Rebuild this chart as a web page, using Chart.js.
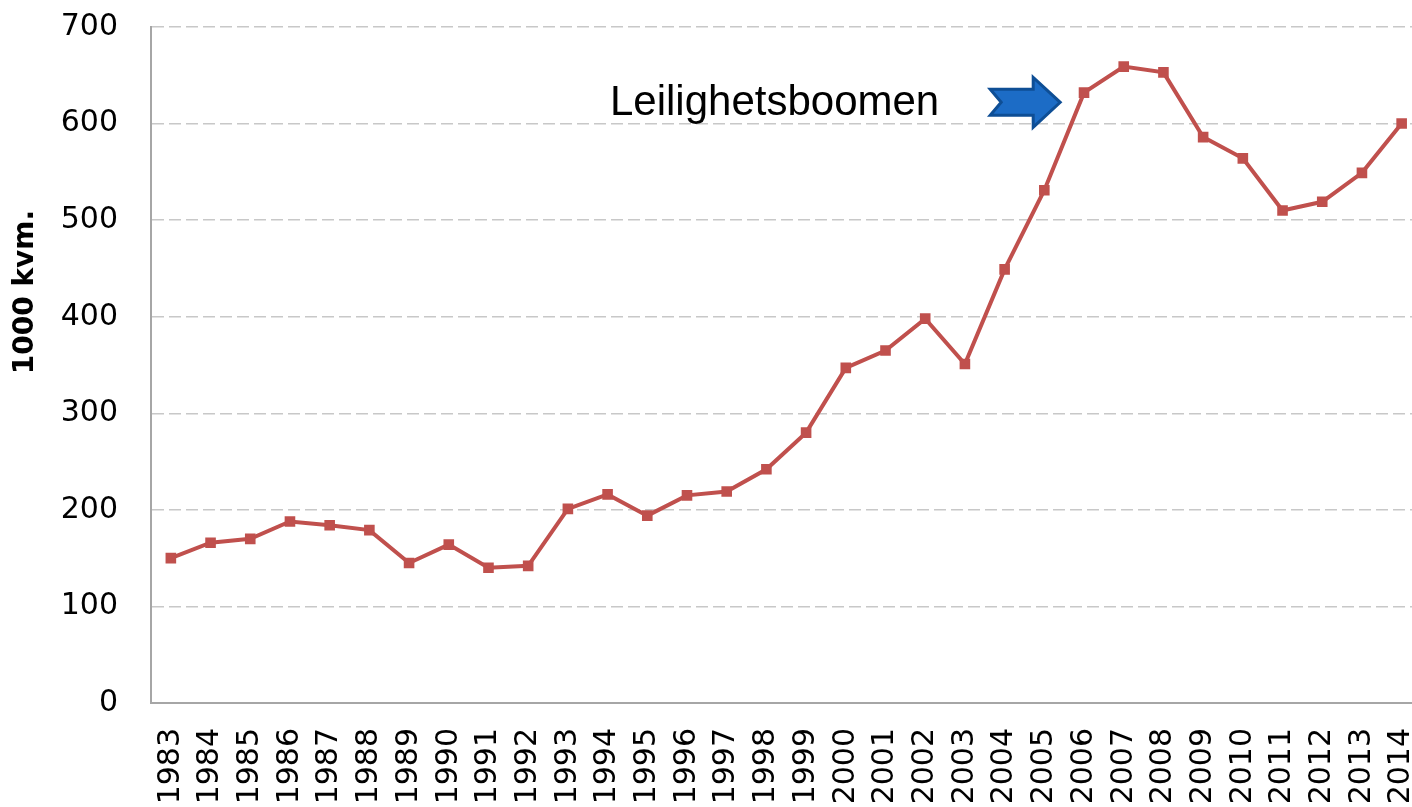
<!DOCTYPE html>
<html>
<head>
<meta charset="utf-8">
<script src="https://cdn.jsdelivr.net/npm/chart.js@4/dist/chart.umd.min.js"></script>
<style>
  html, body { margin: 0; padding: 0; background: #fff; overflow: hidden; width: 1412px; height: 807px; }
  #wrap { width: 1429px; height: 807px; }
</style>
</head>
<body>
<div id="wrap"><canvas id="c" width="1429" height="807"></canvas></div>
<script>
const years = ['1983','1984','1985','1986','1987','1988','1989','1990','1991','1992','1993','1994','1995','1996','1997','1998','1999','2000','2001','2002','2003','2004','2005','2006','2007','2008','2009','2010','2011','2012','2013','2014'];
const areaValues = [150,166,170,188,184,179,145,164,140,142,201,216,194,215,219,242,280,347,365,398,351,449,531,632,659,653,586,564,510,519,549,600];
const yTicks = [0,100,200,300,400,500,600,700];
const yTitle = '1000 kvm.';
const annotationText = 'Leilighetsboomen';

const annotationPlugin = {
  id: 'extras',
  afterDraw(chart) {
    const ctx = chart.ctx;
    const xs = chart.scales.x, ys = chart.scales.y;
    const step = xs.getPixelForValue(1) - xs.getPixelForValue(0);
    // y-axis title
    ctx.save();
    ctx.translate(26, 292);
    ctx.rotate(-Math.PI / 2);
    ctx.font = 'bold 28px "DejaVu Sans"';
    ctx.fillStyle = '#000';
    ctx.textAlign = 'center';
    ctx.textBaseline = 'middle';
    ctx.fillText(yTitle, 0, 0);
    ctx.restore();
    // arrow anchored near 2006
    const tipX = xs.getPixelForValue(23) - 0.6 * step;
    const cy = ys.getPixelForValue(622);
    const tailX = tipX - 70;
    const headX = tipX - 27;
    ctx.save();
    ctx.beginPath();
    ctx.moveTo(tailX, cy - 13);
    ctx.lineTo(headX, cy - 13);
    ctx.lineTo(headX, cy - 25);
    ctx.lineTo(tipX, cy);
    ctx.lineTo(headX, cy + 25);
    ctx.lineTo(headX, cy + 13);
    ctx.lineTo(tailX, cy + 13);
    ctx.lineTo(tailX + 11, cy);
    ctx.closePath();
    ctx.fillStyle = '#1C6CC6';
    ctx.fill();
    ctx.lineWidth = 3;
    ctx.lineJoin = 'miter';
    ctx.strokeStyle = '#0E4E95';
    ctx.stroke();
    ctx.restore();
    // annotation text
    ctx.save();
    ctx.font = '42px "Liberation Sans", Arial, sans-serif';
    ctx.fillStyle = '#000';
    ctx.textAlign = 'right';
    ctx.textBaseline = 'alphabetic';
    ctx.fillText(annotationText, tailX - 51, cy + 13);
    ctx.restore();
  }
};

new Chart(document.getElementById('c'), {
  type: 'line',
  data: {
    labels: years,
    datasets: [{
      data: areaValues,
      borderColor: '#C0504D',
      backgroundColor: '#C0504D',
      borderWidth: 4,
      pointStyle: 'rect',
      pointRadius: 7.5,
      pointBorderWidth: 0,
      pointBackgroundColor: '#C0504D',
      tension: 0,
      fill: false
    }]
  },
  options: {
    responsive: false,
    animation: false,
    devicePixelRatio: 1,
    layout: { padding: { left: 0, top: 27, right: 0, bottom: 0 } },
    plugins: { legend: { display: false }, tooltip: { enabled: false } },
    scales: {
      x: {
        offset: true,
        grid: { display: false, drawTicks: false },
        border: { display: true, color: '#A6A6A6', width: 2 },
        ticks: {
          minRotation: 90, maxRotation: 90, autoSkip: false,
          padding: 25,
          color: '#000',
          font: { family: '"DejaVu Sans"', size: 30 }
        },
        afterFit(scale) {
          scale.height = 104;
          scale.paddingLeft = 0;
          scale.paddingRight = 0;
        }
      },
      y: {
        min: 0, max: 700,
        afterBuildTicks(scale) { scale.ticks = yTicks.map(v => ({ value: v })); },
        grid: { color: '#C8C8C8', lineWidth: 1.5, drawTicks: false },
        border: { display: true, color: '#A6A6A6', width: 2, dash: [12, 5] },
        ticks: {
          padding: 33,
          color: '#000',
          font: { family: '"DejaVu Sans"', size: 30 }
        },
        afterFit(scale) {
          scale.width = 151;
          scale.paddingTop = 0;
          scale.paddingBottom = 0;
        }
      }
    }
  },
  plugins: [annotationPlugin]
});
</script>
</body>
</html>
